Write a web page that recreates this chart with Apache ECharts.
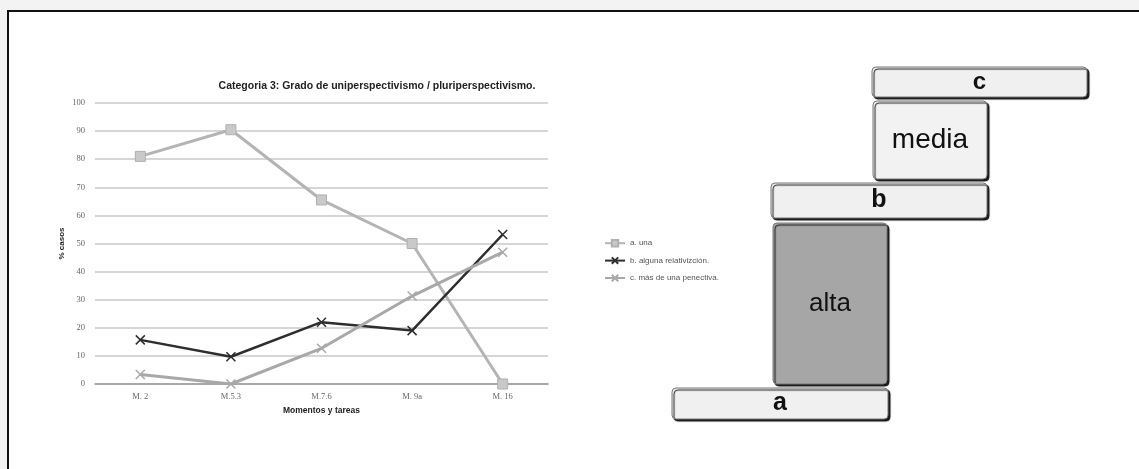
<!DOCTYPE html>
<html>
<head>
<meta charset="utf-8">
<script src="https://cdn.jsdelivr.net/npm/echarts@6/dist/echarts.min.js"></script>
<style>
html,body{margin:0;padding:0;width:1139px;height:469px;background:#fff;overflow:hidden;}
#chart{position:absolute;left:0;top:0;width:1139px;height:469px;}
</style>
</head>
<body>
<div id="chart"></div>
<script>
const categories = ['M. 2', 'M.5.3', 'M.7.6', 'M. 9a', 'M. 16'];
const seriesNames = ['a. una', 'b. alguna relativizción.', 'c. más de una penectiva.'];
const serieA = [81, 90.5, 65.5, 50, 0];
const serieB = [15.7, 9.7, 22, 19, 53.2];
const serieC = [3.4, 0, 12.7, 31.3, 46.9];
const yTicks = { min: 0, max: 100, interval: 10 };

const X_PATH = 'path://M0,0L10,10M10,0L0,10';

const chart = echarts.init(document.getElementById('chart'), null, { renderer: 'canvas' });

function box(x, y, w, h, fill, text, font) {
  return {
    type: 'rect',
    shape: { x: x, y: y, width: w, height: h, r: 4 },
    style: {
      fill: fill, stroke: '#777', lineWidth: 1,
      shadowColor: 'rgba(0,0,0,0.9)', shadowOffsetX: 2, shadowOffsetY: 2, shadowBlur: 1
    },
    textContent: {
      style: { text: text, font: font, fill: '#111' }
    },
    textConfig: { position: 'inside' }
  };
}

const option = {
  backgroundColor: '#fff',
  animation: false,
  title: {
    text: 'Categoria 3: Grado de uniperspectivismo / pluriperspectivismo.',
    left: 372, top: 76, textAlign: 'center',
    textStyle: { fontFamily: 'Liberation Sans, Arial', fontSize: 10.5, fontWeight: 'bold', color: '#222' }
  },
  legend: {
    orient: 'vertical',
    left: 599, top: 234,
    itemWidth: 20, itemHeight: 8, itemGap: 9,
    data: seriesNames,
    textStyle: { fontFamily: 'Liberation Sans, Arial', fontSize: 8, color: '#555' }
  },
  grid: { left: 95, right: 591, top: 103, bottom: 85 },
  xAxis: {
    type: 'category',
    data: categories,
    boundaryGap: true,
    name: 'Momentos y tareas',
    nameLocation: 'middle',
    nameGap: 21,
    nameTextStyle: { fontFamily: 'Liberation Sans, Arial', fontSize: 8.5, fontWeight: 'bold', color: '#222' },
    axisLine: { show: true, lineStyle: { color: '#999', width: 1.5 } },
    axisTick: { show: false },
    axisLabel: { fontFamily: 'Liberation Serif, DejaVu Serif', fontSize: 8.5, color: '#666', margin: 8 }
  },
  yAxis: {
    type: 'value',
    min: yTicks.min, max: yTicks.max, interval: yTicks.interval,
    name: '% casos',
    nameLocation: 'middle',
    nameGap: 29,
    nameRotate: 90,
    nameTextStyle: { fontFamily: 'Liberation Sans, Arial', fontSize: 8, fontWeight: 'bold', color: '#222' },
    axisLine: { show: false },
    axisTick: { show: false },
    axisLabel: { fontFamily: 'Liberation Serif, DejaVu Serif', fontSize: 8.5, color: '#666', margin: 10 },
    splitLine: { lineStyle: { color: '#c8c8c8', width: 1.5 } }
  },
  series: [
    {
      name: seriesNames[0], type: 'line', data: serieA,
      symbol: 'rect', symbolSize: 10,
      lineStyle: { color: '#b4b4b4', width: 3 },
      itemStyle: { color: '#c9c9c9', borderColor: '#b0b0b0', borderWidth: 1 }
    },
    {
      name: seriesNames[1], type: 'line', data: serieB,
      symbol: X_PATH, symbolSize: 9,
      lineStyle: { color: '#2e2e2e', width: 2.5 },
      itemStyle: { color: '#2e2e2e', borderColor: '#2e2e2e', borderWidth: 1.5 }
    },
    {
      name: seriesNames[2], type: 'line', data: serieC,
      symbol: X_PATH, symbolSize: 9,
      lineStyle: { color: '#a8a8a8', width: 3 },
      itemStyle: { color: '#a8a8a8', borderColor: '#a8a8a8', borderWidth: 1.5 }
    }
  ],
  graphic: [
    { type: 'rect', shape: { x: 0, y: 0, width: 1139, height: 10 }, style: { fill: '#f3f3f3' }, silent: true },
    { type: 'rect', shape: { x: 0, y: 0, width: 7, height: 469 }, style: { fill: '#f3f3f3' }, silent: true },
    { type: 'line', shape: { x1: 7, y1: 11, x2: 1139, y2: 11 }, style: { stroke: '#111', lineWidth: 2 }, silent: true },
    { type: 'line', shape: { x1: 8, y1: 10, x2: 8, y2: 469 }, style: { stroke: '#111', lineWidth: 2 }, silent: true },
    box(872, 67, 215, 30, '#f0f0f0', 'c', 'bold 24px Liberation Sans, Arial'),
    box(873, 101, 114, 78, '#f2f2f2', 'media', '28px Liberation Sans, Arial'),
    box(771, 183, 216, 35, '#f0f0f0', 'b', 'bold 25px Liberation Sans, Arial'),
    box(773, 223, 114, 161, '#a6a6a6', 'alta', '26px Liberation Sans, Arial'),
    box(672, 388, 216, 31, '#f0f0f0', 'a', 'bold 25px Liberation Sans, Arial')
  ]
};
chart.setOption(option);
</script>
</body>
</html>
